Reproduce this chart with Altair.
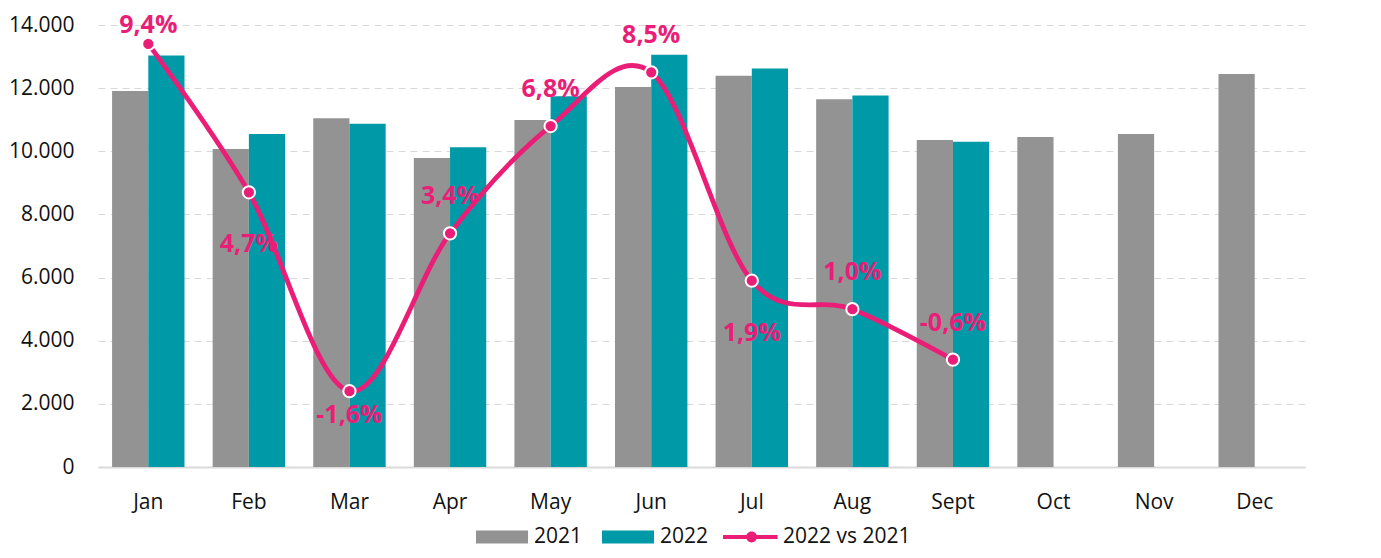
import altair as alt
import pandas as pd

months = ["Jan", "Feb", "Mar", "Apr", "May", "Jun", "Jul", "Aug", "Sept", "Oct", "Nov", "Dec"]
sales_2021 = [11910, 10070, 11050, 9790, 10990, 12040, 12390, 11650, 10360, 10450, 10550, 12450]
sales_2022 = [13030, 10545, 10875, 10125, 11740, 13060, 12625, 11765, 10300, None, None, None]
growth_pct = [9.4, 4.7, -1.6, 3.4, 6.8, 8.5, 1.9, 1.0, -0.6]
label_place = ["top", "below", "below_near", "above", "above", "above", "below", "above", "above"]
bar_series = ["2021", "2022"]
line_series = "2022 vs 2021"

GRAY = "#939393"
TEAL = "#0099A7"
PINK = "#EA1E77"
FONT = "Open Sans"
TXT = "#111111"
AX_FS = 21

rows = []
for m, a, b in zip(months, sales_2021, sales_2022):
    rows.append({"month": m, "series": "2021", "value": a})
    if b is not None:
        rows.append({"month": m, "series": "2022", "value": b})
bars_df = pd.DataFrame(rows)

line_df = pd.DataFrame({
    "month": months[:len(growth_pct)],
    "pct": growth_pct,
    "place": label_place,
    "series": line_series,
})

xscale = alt.Scale(domain=months, paddingInner=0.28, paddingOuter=0.14)
x_enc = alt.X("month:N", sort=months, scale=xscale,
              axis=alt.Axis(title=None, labelAngle=0, ticks=False, domain=True,
                            domainColor="#d9d9d9", domainWidth=2, labelPadding=24,
                            labelFontSize=AX_FS, labelFont=FONT, labelColor=TXT))

rect_path = "M-1,-0.5H3V0.5H-1Z"
line_path = ("M-1,-0.16H0.8V0.16H-1Z M1.6,-0.16H3.2V0.16H1.6Z "
             "M1.62,0A0.42,0.42 0 1,1 0.78,0A0.42,0.42 0 1,1 1.62,0Z")

bar_legend = alt.Legend(
    title=None, orient="none", direction="horizontal", legendX=378, legendY=499,
    symbolType=rect_path, symbolSize=676, symbolStrokeWidth=0, symbolOpacity=1,
    labelOffset=32, columnPadding=19, labelFontSize=AX_FS, labelFont=FONT, labelColor=TXT,
)
line_legend = alt.Legend(
    title=None, orient="none", direction="horizontal", legendX=625, legendY=499,
    symbolType=line_path, symbolSize=676, symbolStrokeWidth=0, symbolFillColor=PINK,
    symbolStrokeColor=PINK, labelOffset=34, labelFontSize=AX_FS, labelFont=FONT, labelColor=TXT,
)

bars = alt.Chart(bars_df).mark_bar().encode(
    x=x_enc,
    xOffset=alt.XOffset("series:N", sort=bar_series,
                        scale=alt.Scale(domain=bar_series, paddingInner=0, paddingOuter=0)),
    y=alt.Y("value:Q", scale=alt.Scale(domain=[0, 14000]),
            axis=alt.Axis(title=None, values=list(range(0, 14001, 2000)),
                          labelExpr="replace(format(datum.value, ',d'), ',', '.')",
                          grid=True, gridDash=[7, 5], gridColor="#d9d9d9", gridWidth=1.2,
                          domain=False, ticks=False, labelPadding=24, labelFontSize=AX_FS,
                          labelFont=FONT, labelColor=TXT)),
    color=alt.Color("series:N", scale=alt.Scale(domain=bar_series, range=[GRAY, TEAL]),
                    legend=bar_legend),
)

y_pct = alt.Scale(domain=[-4, 10])
line = alt.Chart(line_df).mark_line(interpolate="cardinal", strokeWidth=4.8, color=PINK).encode(
    x=alt.X("month:N", sort=months, scale=xscale),
    y=alt.Y("pct:Q", scale=y_pct,
            axis=alt.Axis(orient="right", title=None, values=list(range(-4, 11, 2)),
                          labelExpr="datum.value + '%'", grid=False, domain=False, ticks=False,
                          labelPadding=21, labelFontSize=AX_FS, labelFont=FONT, labelColor=TXT)),
)
points = alt.Chart(line_df).mark_circle(size=150, fill=PINK, color=PINK, stroke="white", strokeWidth=2).encode(
    x=alt.X("month:N", sort=months, scale=xscale),
    y=alt.Y("pct:Q", scale=y_pct, axis=None),
    opacity=alt.Opacity("series:N", scale=alt.Scale(domain=[line_series], range=[1]), legend=line_legend),
)

offsets = {"top": -19, "above": -37, "below": 52, "below_near": 24}
texts = []
for place, dy in offsets.items():
    texts.append(
        alt.Chart(line_df).transform_filter(alt.datum.place == place)
        .transform_calculate(label="(datum.pct < 0 ? '-' : '') + replace(format(abs(datum.pct), '.1f'), '.', ',') + '%'")
        .mark_text(dy=dy, fontSize=25, fontWeight="bold", font=FONT, color=PINK, baseline="middle")
        .encode(x=alt.X("month:N", sort=months, scale=xscale),
                y=alt.Y("pct:Q", scale=y_pct, axis=None),
                text="label:N")
    )

line_group = alt.layer(line, points, *texts)

chart = alt.layer(bars, line_group).resolve_scale(y="independent").properties(
    width=1207, height=442,
    autosize=alt.AutoSizeParams(type="none"),
    padding={"left": 90, "top": 17, "right": 68, "bottom": 83},
).configure_view(stroke=None)

chart.save("out.html", embed_options={"renderer": "svg", "actions": False})
